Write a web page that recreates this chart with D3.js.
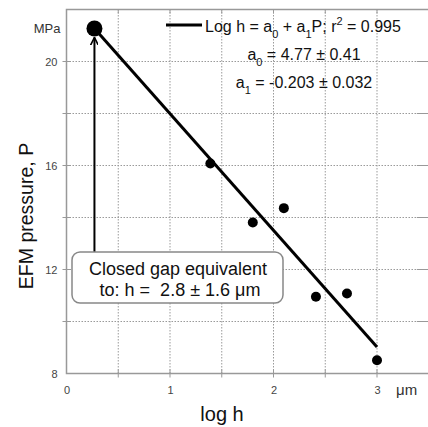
<!DOCTYPE html>
<html>
<head>
<meta charset="utf-8">
<script src="https://cdn.jsdelivr.net/npm/d3@7"></script>
<style>
  body { margin: 0; background: #fff; }
  svg { display: block; font-family: Arial, "Liberation Sans", Helvetica, sans-serif; }
</style>
</head>
<body>
<div id="chart"></div>
<script>
// data
const logH = [0.27, 1.39, 1.80, 2.10, 2.41, 2.71, 3.00];
const pressure = [21.27, 16.08, 13.81, 14.36, 10.95, 11.08, 8.51];
const fitLogH = [0.27, 3.0];
const fitP = [21.27, 9.02];
const xTicks = [0, 1, 2, 3];
const yTicks = [8, 12, 16, 20];
const xGrid = [0.5, 1, 1.5, 2, 2.5, 3];
const yGrid = [10, 12, 14, 16, 18, 20];

const width = 428, height = 427;
const margin = { top: 9.5, right: 0, bottom: 53.5, left: 66.5 };

const svg = d3.select("#chart").append("svg")
  .attr("width", width)
  .attr("height", height);

const x = d3.scaleLinear().domain([0, 3.5]).range([margin.left, margin.left + 3.5 * 103.5]);
const y = d3.scaleLinear().domain([8, 22]).range([height - margin.bottom, margin.top]);

// dotted grid
svg.append("g")
  .selectAll("line.gx")
  .data(xGrid)
  .join("line")
  .attr("x1", d => x(d)).attr("x2", d => x(d))
  .attr("y1", y(8)).attr("y2", y(22))
  .attr("stroke", "#9a9a9a").attr("stroke-width", 1)
  .attr("stroke-dasharray", "1.5,1.5");

svg.append("g")
  .selectAll("line.gy")
  .data(yGrid)
  .join("line")
  .attr("x1", x(0)).attr("x2", x(3.5))
  .attr("y1", d => y(d)).attr("y2", d => y(d))
  .attr("stroke", "#9a9a9a").attr("stroke-width", 1)
  .attr("stroke-dasharray", "1.5,1.5");

// frame
svg.append("rect")
  .attr("x", x(0)).attr("y", y(22))
  .attr("width", x(3.5) - x(0)).attr("height", y(8) - y(22))
  .attr("fill", "none").attr("stroke", "#999").attr("stroke-width", 1.5);

// axes (ticks only, labels styled below)
const xAxis = svg.append("g")
  .attr("transform", `translate(0,${y(8)})`)
  .call(d3.axisBottom(x).tickValues(xTicks).tickSize(0).tickPadding(13).tickFormat(d3.format("d")));
const yAxis = svg.append("g")
  .attr("transform", `translate(${x(0)},0)`)
  .call(d3.axisLeft(y).tickValues(yTicks).tickSize(0).tickPadding(9).tickFormat(d3.format("d")));
[xAxis, yAxis].forEach(g => {
  g.select(".domain").remove();
  g.selectAll("text")
    .attr("font-size", 11).attr("fill", "#444")
    .attr("font-family", "Arial, 'Liberation Sans', sans-serif");
});

// small inner tick marks on the frame
svg.append("g").selectAll("line").data(yGrid).join("line")
  .attr("x1", x(0) - 4).attr("x2", x(0) + 4)
  .attr("y1", d => y(d)).attr("y2", d => y(d))
  .attr("stroke", "#999");
svg.append("g").selectAll("line").data(yGrid).join("line")
  .attr("x1", x(3.5) - 12).attr("x2", x(3.5))
  .attr("y1", d => y(d)).attr("y2", d => y(d))
  .attr("stroke", "#999");
svg.append("g").selectAll("line").data(xGrid).join("line")
  .attr("x1", d => x(d)).attr("x2", d => x(d))
  .attr("y1", y(8) - 4).attr("y2", y(8) + 4)
  .attr("stroke", "#999");
svg.append("g").selectAll("line").data(xGrid).join("line")
  .attr("x1", d => x(d)).attr("x2", d => x(d))
  .attr("y1", y(22)).attr("y2", y(22) + 4)
  .attr("stroke", "#999");

// unit labels
svg.append("text")
  .attr("x", x(0) - 6).attr("y", y(21.27) + 5)
  .attr("text-anchor", "end")
  .attr("font-size", 13).attr("fill", "#333")
  .text("MPa");
svg.append("text")
  .attr("x", 396).attr("y", 395)
  .attr("font-size", 15).attr("fill", "#333")
  .text("μm");

// axis titles
svg.append("text")
  .attr("transform", `translate(33,${216}) rotate(-90)`)
  .attr("text-anchor", "middle")
  .attr("font-size", 19.5).attr("fill", "#111")
  .text("EFM pressure, P");
svg.append("text")
  .attr("x", 222).attr("y", 421)
  .attr("text-anchor", "middle")
  .attr("font-size", 20).attr("fill", "#111")
  .text("log h");

// regression line
const line = d3.line().x(d => x(d[0])).y(d => y(d[1]));
svg.append("path")
  .datum(d3.zip(fitLogH, fitP))
  .attr("d", line)
  .attr("fill", "none")
  .attr("stroke", "#000")
  .attr("stroke-width", 3);

// data points
svg.append("g")
  .selectAll("circle")
  .data(d3.zip(logH, pressure))
  .join("circle")
  .attr("cx", d => x(d[0]))
  .attr("cy", d => y(d[1]))
  .attr("r", (d, i) => i === 0 ? 8 : 5)
  .attr("fill", "#000");

// arrow from callout up to the closed-gap point
svg.append("defs").append("marker")
  .attr("id", "arrow")
  .attr("viewBox", "0 0 10 10")
  .attr("refX", 10).attr("refY", 5)
  .attr("markerWidth", 8).attr("markerHeight", 8)
  .attr("markerUnits", "userSpaceOnUse")
  .attr("orient", "auto")
  .append("path")
  .attr("d", "M0,0 L10,5 L0,10")
  .attr("fill", "none").attr("stroke", "#000").attr("stroke-width", 2);

svg.append("line")
  .attr("x1", x(logH[0])).attr("x2", x(logH[0]))
  .attr("y1", 252).attr("y2", y(pressure[0]) + 9)
  .attr("stroke", "#000").attr("stroke-width", 2)
  .attr("marker-end", "url(#arrow)");

// callout box
svg.append("rect")
  .attr("x", 72).attr("y", 252)
  .attr("width", 211).attr("height", 51)
  .attr("rx", 8).attr("ry", 8)
  .attr("fill", "#fff").attr("stroke", "#888").attr("stroke-width", 1.5);
svg.append("text")
  .attr("x", 178).attr("y", 275)
  .attr("text-anchor", "middle")
  .attr("font-size", 18).attr("fill", "#111")
  .text("Closed gap equivalent");
svg.append("text")
  .attr("x", 180).attr("y", 296)
  .attr("text-anchor", "middle")
  .attr("font-size", 18).attr("fill", "#111")
  .attr("xml:space", "preserve")
  .text("to: h =  2.8 ± 1.6 μm");

// legend / fit equation
svg.append("line")
  .attr("x1", 166).attr("x2", 202)
  .attr("y1", 25).attr("y2", 25)
  .attr("stroke", "#000").attr("stroke-width", 3);

function eq(xPos, yPos, anchor, parts) {
  const t = svg.append("text")
    .attr("x", xPos).attr("y", yPos)
    .attr("text-anchor", anchor)
    .attr("font-size", 16).attr("fill", "#111");
  parts.forEach(p => {
    const s = t.append("tspan").text(p.t);
    if (p.sub) s.attr("font-size", 11).attr("dy", 6);
    if (p.sup) s.attr("font-size", 11).attr("dy", -7);
    if (p.back) s.attr("dy", p.back);
  });
}

eq(205, 32, "start", [
  { t: "Log h = a" }, { t: "0", sub: true }, { t: " + a", back: -6 }, { t: "1", sub: true },
  { t: "P; r", back: -6 }, { t: "2", sup: true }, { t: " = 0.995", back: 7 }
]);
eq(304, 60, "middle", [
  { t: "a" }, { t: "0", sub: true }, { t: " = 4.77 ± 0.41", back: -6 }
]);
eq(304, 88, "middle", [
  { t: "a" }, { t: "1", sub: true }, { t: " = -0.203 ± 0.032", back: -6 }
]);
</script>
</body>
</html>
